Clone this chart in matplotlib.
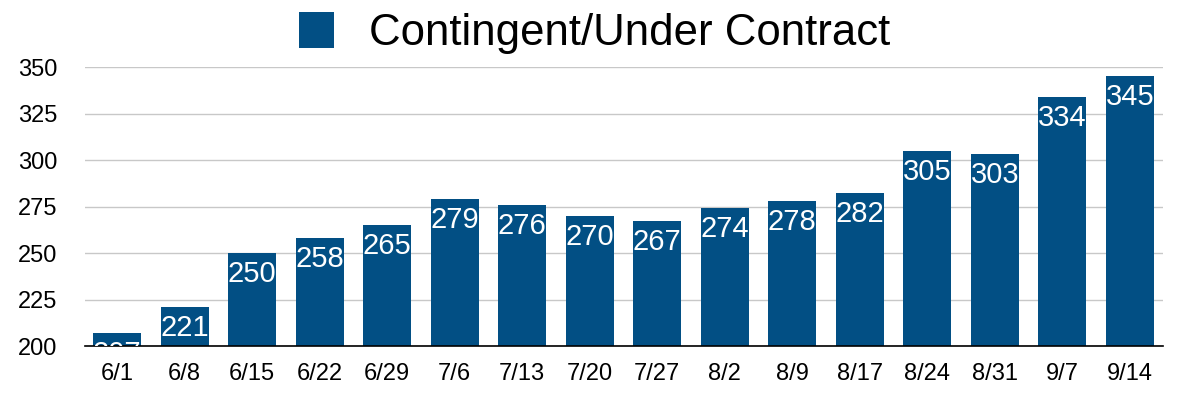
import matplotlib
matplotlib.use("Agg")
import matplotlib.pyplot as plt
from matplotlib.patches import Patch

categories = ["6/1", "6/8", "6/15", "6/22", "6/29", "7/6", "7/13", "7/20",
              "7/27", "8/2", "8/9", "8/17", "8/24", "8/31", "9/7", "9/14"]
values = [207, 221, 250, 258, 265, 279, 276, 270, 267, 274, 278, 282, 305, 303, 334, 345]
yticks = [200, 225, 250, 275, 300, 325, 350]
series_name = "Contingent/Under Contract"

color = "#024f84"
plt.rcParams['font.family'] = ['Liberation Sans', 'DejaVu Sans']

fig = plt.figure(figsize=(11.9, 3.97), dpi=100)
ax = fig.add_axes([85 / 1190, 1 - 346 / 397, 1078 / 1190, 279 / 397])

x = list(range(len(categories)))
bars = ax.bar(x, values, width=0.71, color=color, zorder=3)
ax.set_ylim(200, 350)
ax.set_xlim(-0.474, len(categories) - 1 + 0.49)
ax.set_yticks(yticks)
ax.set_yticklabels([str(t) for t in yticks], fontsize=17)
ax.set_xticks(x)
ax.set_xticklabels(categories, fontsize=17)
ax.tick_params(axis='both', length=0)
ax.tick_params(axis='x', pad=12)
ax.tick_params(axis='y', pad=20)
ax.grid(axis='y', color='#c8c8c8', linewidth=1, zorder=0)
for s in ['left', 'right', 'top']:
    ax.spines[s].set_visible(False)
ax.spines['bottom'].set_color('black')
ax.spines['bottom'].set_linewidth(1.2)
ax.spines['bottom'].set_zorder(4)

for xi, v in zip(x, values):
    ax.annotate(str(v), xy=(xi, v), xytext=(0, -5), textcoords='offset points',
                ha='center', va='top', color='white', fontsize=21,
                clip_on=True, annotation_clip=True, zorder=5)

fig.legend(handles=[Patch(facecolor=color, label=series_name)],
           loc='upper center', bbox_to_anchor=(0.5, 1.07), frameon=False,
           fontsize=31.5, handlelength=0.8, handleheight=0.9, handletextpad=0.8)

fig.savefig("out.png", dpi=100)
